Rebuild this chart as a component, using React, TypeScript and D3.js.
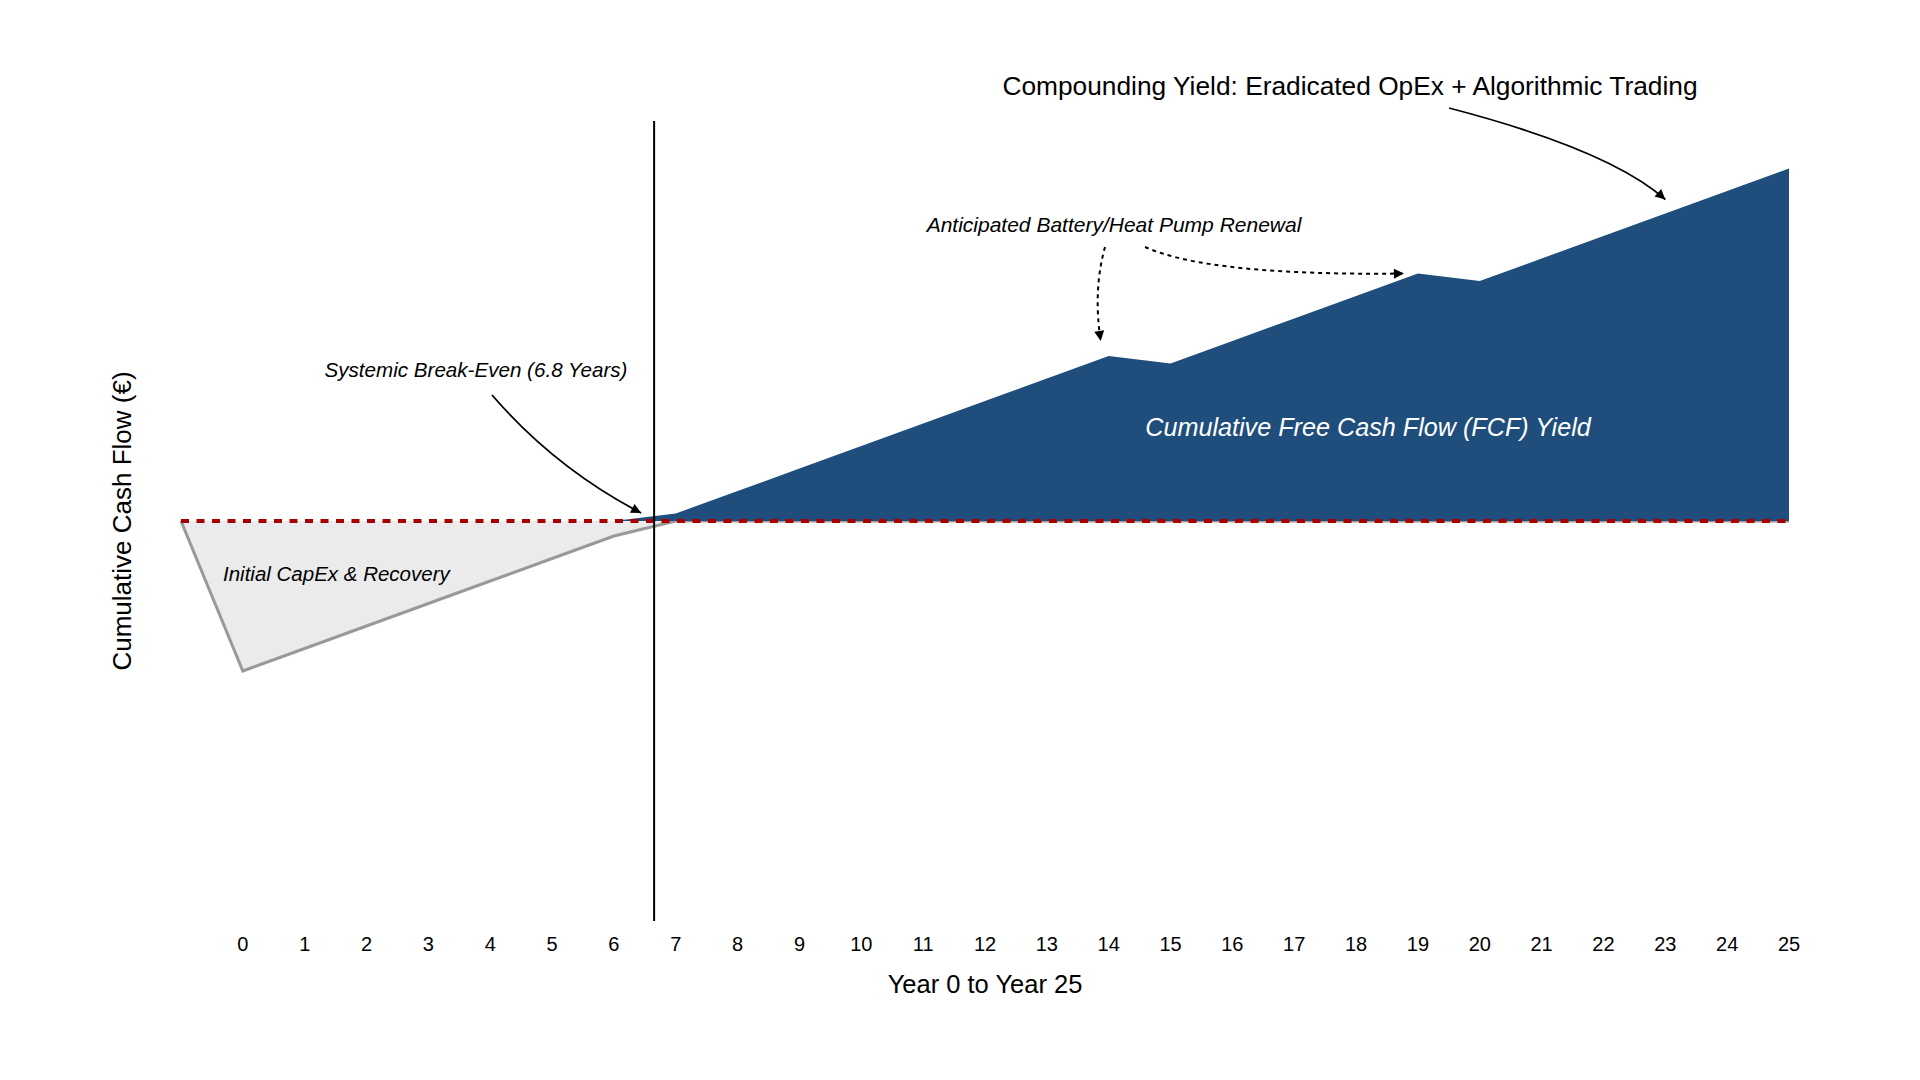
import React from "react";
import * as d3 from "d3";

// ---- data ----
const years = [-1, 0, 1, 2, 3, 4, 5, 6, 7, 8, 9, 10, 11, 12, 13, 14, 15, 16, 17, 18, 19, 20, 21, 22, 23, 24, 25];
const cumulativeCashFlow = [
  0, -45000, -38250, -31500, -24750, -18000, -11250, -4500, 2250, 9000, 15750, 22500, 29250, 36000,
  42750, 49500, 47250, 54000, 60750, 67500, 74250, 72000, 78750, 85500, 92250, 99000, 105750,
];
const tickYears = [0, 1, 2, 3, 4, 5, 6, 7, 8, 9, 10, 11, 12, 13, 14, 15, 16, 17, 18, 19, 20, 21, 22, 23, 24, 25];
const breakEvenYear = 6.65;
const renewalYears = [14, 19];
const compoundingYear = 23;

const FONT = "'Liberation Sans', Arial, Helvetica, sans-serif";

export default function App() {
  const W = 1920;
  const H = 1080;
  const x = d3.scaleLinear().domain([-1, 25]).range([181, 1789]);
  const y = d3.scaleLinear().domain([-120000, 120000]).range([921, 121]);

  const data = years.map((yr, i) => ({ yr, v: cumulativeCashFlow[i] }));
  const valueAt = (yr: number) => cumulativeCashFlow[years.indexOf(yr)];

  const negArea = d3
    .area<{ yr: number; v: number }>()
    .x((d) => x(d.yr))
    .y0(y(0))
    .y1((d) => y(Math.min(d.v, 0)));
  const negLine = d3
    .line<{ yr: number; v: number }>()
    .x((d) => x(d.yr))
    .y((d) => y(Math.min(d.v, 0)));
  const posArea = d3
    .area<{ yr: number; v: number }>()
    .x((d) => x(d.yr))
    .y0(y(0))
    .y1((d) => y(Math.max(d.v, 0)));

  const quad = (sx: number, sy: number, cx: number, cy: number, ex: number, ey: number) => {
    const p = d3.path();
    p.moveTo(sx, sy);
    p.quadraticCurveTo(cx, cy, ex, ey);
    return p.toString();
  };

  // arrow tips derived from scales
  const beTip = [x(breakEvenYear) - 13, y(0) - 8];
  const r1Tip = [x(renewalYears[0]) - 8, y(valueAt(renewalYears[0])) - 15];
  const r2Tip = [x(renewalYears[1]) - 14, y(valueAt(renewalYears[1]))];
  const cTip = [x(compoundingYear), y(valueAt(compoundingYear)) - 14];

  return (
    <svg
      width={W}
      height={H}
      style={{ position: "absolute", left: 0, top: 0, background: "#fff" }}
      fontFamily={FONT}
    >
      <defs>
        <marker id="ah" viewBox="0 0 10 10" refX="10" refY="5" markerWidth="12" markerHeight="10" markerUnits="userSpaceOnUse" orient="auto">
          <path d="M0,0 L10,5 L0,10 z" fill="#000" />
        </marker>
      </defs>

      {/* negative (investment) area */}
      <path d={negArea(data) || ""} fill="#ebebeb" stroke="none" />
      <path d={negLine(data) || ""} fill="none" stroke="#999999" strokeWidth={3} />

      {/* positive (FCF) area */}
      <path d={posArea(data) || ""} fill="#1f4e7c" stroke="none" />

      {/* zero line */}
      <line x1={x(-1)} x2={x(25)} y1={y(0)} y2={y(0)} stroke="#a80000" strokeWidth={4} strokeDasharray="8,7.5" />

      {/* break-even vertical line */}
      <line x1={x(breakEvenYear)} x2={x(breakEvenYear)} y1={y.range()[1]} y2={y.range()[0]} stroke="#000" strokeWidth={2} />

      {/* x tick labels */}
      {tickYears.map((t) => (
        <text key={t} x={x(t)} y={951} textAnchor="middle" fontSize={20} fill="#000">
          {t}
        </text>
      ))}

      {/* axis titles */}
      <text x={(x(-1) + x(25)) / 2} y={993} textAnchor="middle" fontSize={25.5} fill="#000">
        Year 0 to Year 25
      </text>
      <text
        transform={`translate(131, ${y(0)}) rotate(-90)`}
        textAnchor="middle"
        fontSize={26}
        fill="#000"
      >
        Cumulative Cash Flow (€)
      </text>

      {/* annotations */}
      <text x={223} y={581} fontSize={20.5} fontStyle="italic" fill="#000">
        Initial CapEx &amp; Recovery
      </text>
      <text x={1368} y={436} textAnchor="middle" fontSize={25.2} fontStyle="italic" fill="#fff">
        Cumulative Free Cash Flow (FCF) Yield
      </text>

      <text x={476} y={377} textAnchor="middle" fontSize={20.6} fontStyle="italic" fill="#000">
        Systemic Break-Even (6.8 Years)
      </text>
      <path
        d={quad(492, 395, 555, 468, beTip[0], beTip[1])}
        fill="none"
        stroke="#000"
        strokeWidth={1.8}
        markerEnd="url(#ah)"
      />

      <text x={1114} y={232} textAnchor="middle" fontSize={21} fontStyle="italic" fill="#000">
        Anticipated Battery/Heat Pump Renewal
      </text>
      <path
        d={quad(1105, 247, 1093, 290, r1Tip[0], r1Tip[1])}
        fill="none"
        stroke="#000"
        strokeWidth={2}
        strokeDasharray="4,4"
        markerEnd="url(#ah)"
      />
      <path
        d={quad(1145, 247, 1210, 276, r2Tip[0], r2Tip[1])}
        fill="none"
        stroke="#000"
        strokeWidth={2}
        strokeDasharray="4,4"
        markerEnd="url(#ah)"
      />

      <text x={1350} y={95} textAnchor="middle" fontSize={26.3} fill="#000">
        Compounding Yield: Eradicated OpEx + Algorithmic Trading
      </text>
      <path
        d={quad(1449, 108, 1610, 150, cTip[0], cTip[1])}
        fill="none"
        stroke="#000"
        strokeWidth={1.8}
        markerEnd="url(#ah)"
      />
    </svg>
  );
}
